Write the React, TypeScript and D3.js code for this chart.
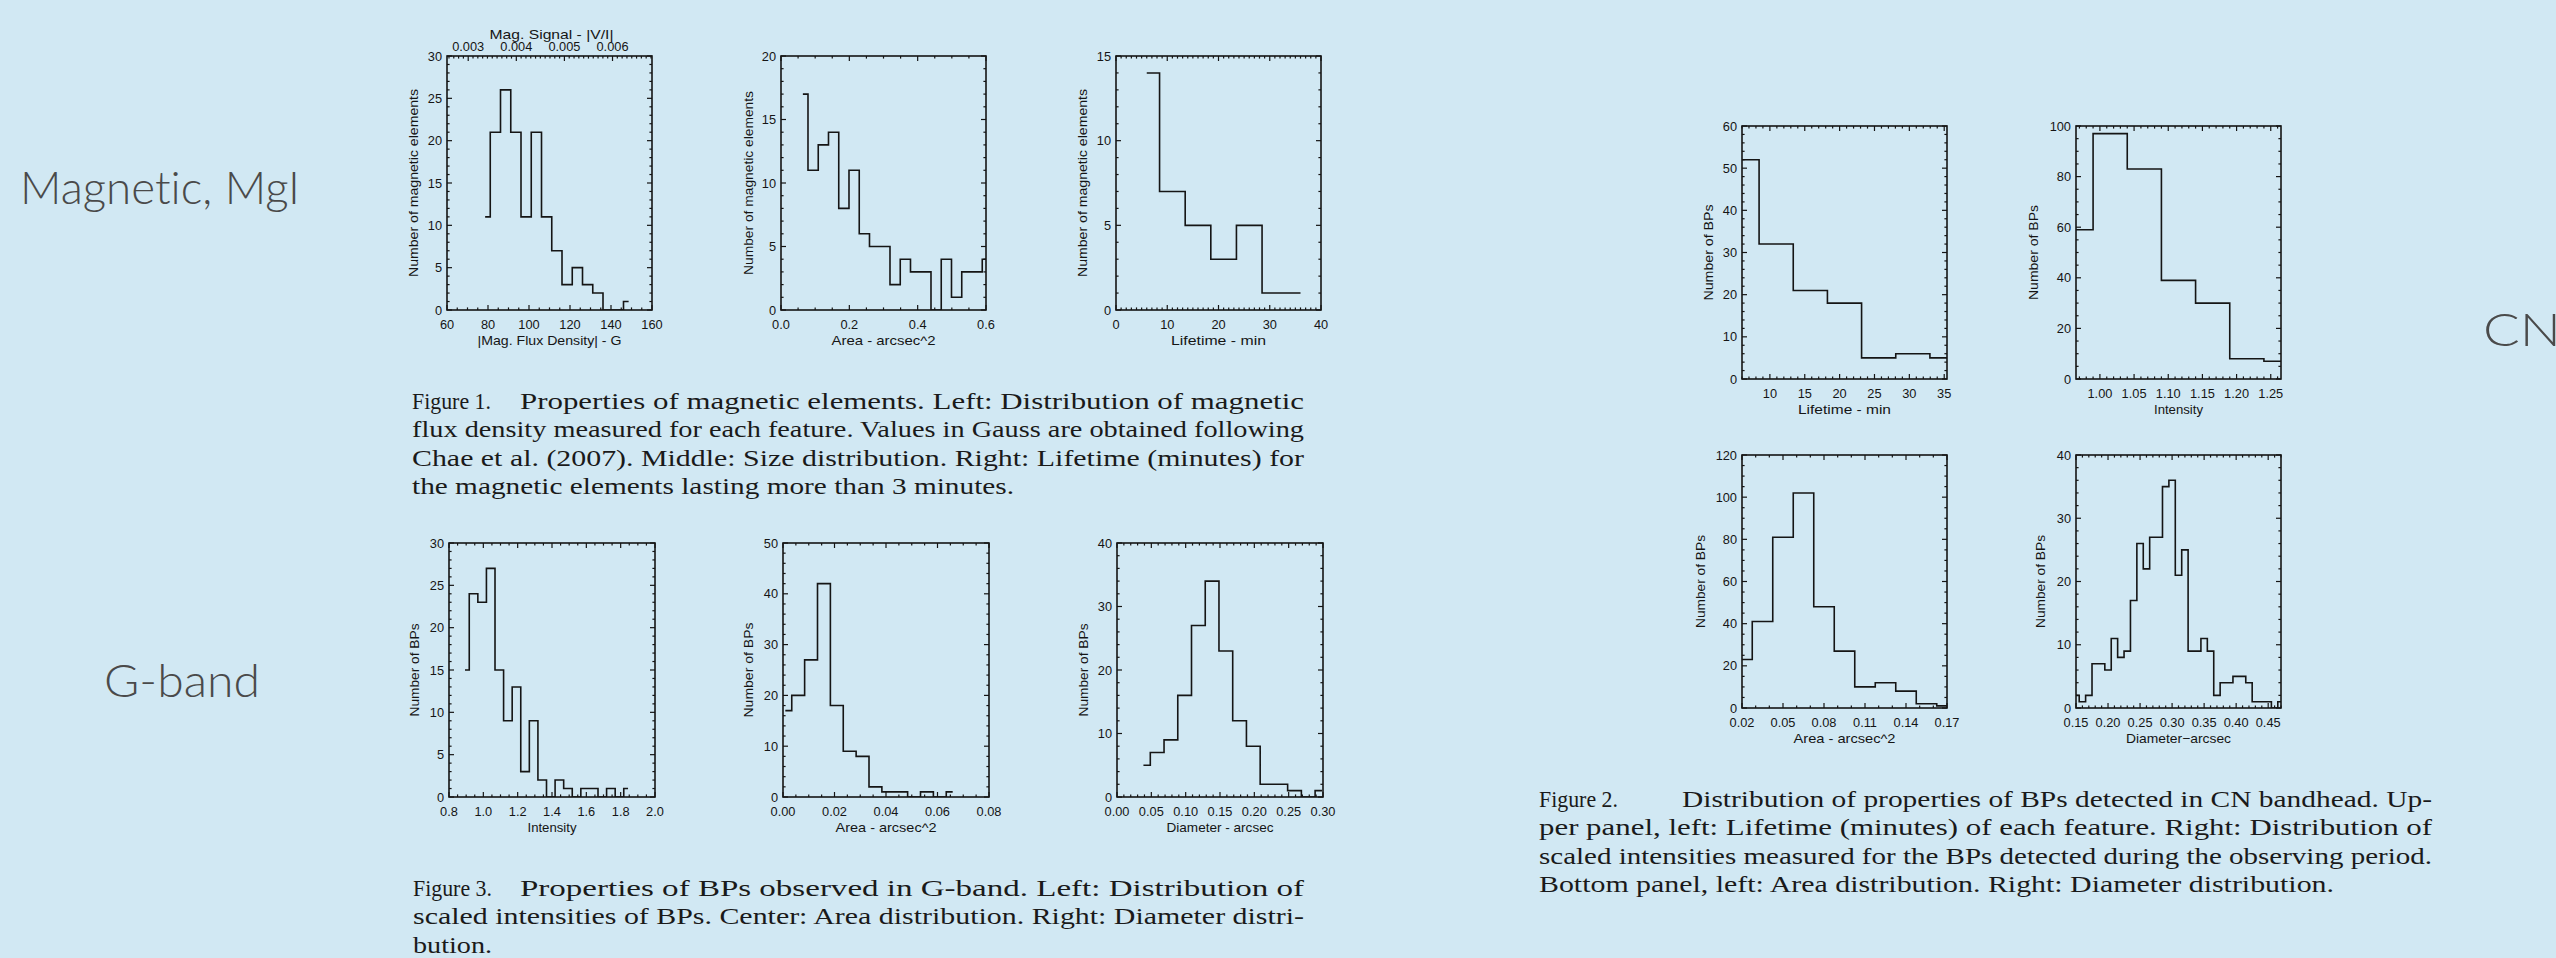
import React from 'react';
import * as d3 from 'd3';

const W = 2556;
const H = 958;

// ---------- Data ----------
// Figure 1 left: |Mag. Flux Density| (G)
const magFluxCenters = [78.6, 83.6, 88.6, 93.6, 98.6, 103.6, 108.6, 113.6, 118.6, 123.6, 128.6, 133.6, 138.6, 143.6, 148.6];
const magFluxCounts = [11, 21, 26, 21, 11, 21, 11, 7, 3, 5, 3, 2, 0, 0, 1];
const magFluxXTicks = [60, 80, 100, 120, 140, 160];
const magFluxYTicks = [0, 5, 10, 15, 20, 25, 30];
const magSignalTicks = [0.003, 0.004, 0.005, 0.006];

// Figure 1 middle: Area (arcsec^2)
const magAreaCenters = [0.064, 0.094, 0.124, 0.154, 0.184, 0.214, 0.244, 0.274, 0.304, 0.334, 0.364, 0.394, 0.424, 0.454, 0.484, 0.514, 0.544, 0.574, 0.604];
const magAreaCounts = [17, 11, 13, 14, 8, 11, 6, 5, 5, 2, 4, 3, 3, 0, 4, 1, 3, 3, 4];
const magAreaXTicks = [0.0, 0.2, 0.4, 0.6];
const magAreaYTicks = [0, 5, 10, 15, 20];

// Figure 1 right: Lifetime (min)
const magLifeCenters = [6, 11, 16, 21, 26, 31, 36];
const magLifeCounts = [14, 7, 5, 3, 5, 1, 1];
const magLifeXTicks = [0, 10, 20, 30, 40];
const magLifeYTicks = [0, 5, 10, 15];

// Figure 3 left: G-band intensity
const gIntCenters = [0.893, 0.943, 0.993, 1.043, 1.093, 1.143, 1.193, 1.243, 1.293, 1.343, 1.393, 1.443, 1.493, 1.543, 1.593, 1.643, 1.693, 1.743, 1.793, 1.843];
const gIntCounts = [15, 24, 23, 27, 15, 9, 13, 3, 9, 2, 0, 2, 1, 0, 1, 1, 0, 1, 0, 1];
const gIntXTicks = [0.8, 1.0, 1.2, 1.4, 1.6, 1.8, 2.0];
const gIntYTicks = [0, 5, 10, 15, 20, 25, 30];

// Figure 3 center: G-band area
const gAreaCenters = [0.0009, 0.0059, 0.0109, 0.0159, 0.0209, 0.0259, 0.0309, 0.0359, 0.0409, 0.0459, 0.0509, 0.0559, 0.0609, 0.0659];
const gAreaCounts = [17, 20, 27, 42, 18, 9, 8, 2, 1, 1, 0, 1, 0, 1];
const gAreaXTicks = [0.0, 0.02, 0.04, 0.06, 0.08];
const gAreaYTicks = [0, 10, 20, 30, 40, 50];

// Figure 3 right: G-band diameter
const gDiamCenters = [0.0385, 0.0585, 0.0785, 0.0985, 0.1185, 0.1385, 0.1585, 0.1785, 0.1985, 0.2185, 0.2385, 0.2585, 0.2785, 0.2985];
const gDiamCounts = [5, 7, 9, 16, 27, 34, 23, 12, 8, 2, 2, 1, 0, 1];
const gDiamXTicks = [0.0, 0.05, 0.1, 0.15, 0.2, 0.25, 0.3];
const gDiamYTicks = [0, 10, 20, 30, 40];

// Figure 2 upper left: CN lifetime
const cnLifeCenters = [6, 10.9, 15.8, 20.7, 25.6, 30.5, 35.4];
const cnLifeCounts = [52, 32, 21, 18, 5, 6, 5];
const cnLifeXTicks = [10, 15, 20, 25, 30, 35];
const cnLifeYTicks = [0, 10, 20, 30, 40, 50, 60];

// Figure 2 upper right: CN intensity
const cnIntCenters = [0.965, 1.015, 1.065, 1.115, 1.165, 1.215, 1.265];
const cnIntCounts = [59, 97, 83, 39, 30, 8, 7];
const cnIntXTicks = [1.0, 1.05, 1.1, 1.15, 1.2, 1.25];
const cnIntYTicks = [0, 20, 40, 60, 80, 100];

// Figure 2 lower left: CN area
const cnAreaCenters = [0.02, 0.035, 0.05, 0.065, 0.08, 0.095, 0.11, 0.125, 0.14, 0.155, 0.17];
const cnAreaCounts = [23, 41, 81, 102, 48, 27, 10, 12, 8, 2, 1];
const cnAreaXTicks = [0.02, 0.05, 0.08, 0.11, 0.14, 0.17];
const cnAreaYTicks = [0, 20, 40, 60, 80, 100, 120];

// Figure 2 lower right: CN diameter
const cnDiamCenters = [0.15, 0.16, 0.17, 0.18, 0.19, 0.2, 0.21, 0.22, 0.23, 0.24, 0.25, 0.26, 0.27, 0.28, 0.29, 0.3, 0.31, 0.32, 0.33, 0.34, 0.35, 0.36, 0.37, 0.38, 0.39, 0.4, 0.41, 0.42, 0.43, 0.44, 0.45, 0.46, 0.47];
const cnDiamCounts = [2, 1, 2, 7, 7, 6, 11, 8, 9, 17, 26, 22, 27, 27, 35, 36, 21, 25, 9, 9, 11, 9, 2, 4, 4, 5, 5, 4, 1, 1, 1, 0, 1];
const cnDiamXTicks = [0.15, 0.2, 0.25, 0.3, 0.35, 0.4, 0.45];
const cnDiamYTicks = [0, 10, 20, 30, 40];

// ---------- Captions ----------
const fig1Head = 'Figure 1.';
const fig1Lines = [
  'Properties of magnetic elements. Left: Distribution of magnetic',
  'flux density measured for each feature. Values in Gauss are obtained following',
  'Chae et al. (2007). Middle: Size distribution. Right: Lifetime (minutes) for',
  'the magnetic elements lasting more than 3 minutes.',
];
const fig3Head = 'Figure 3.';
const fig3Lines = [
  'Properties of BPs observed in G-band. Left: Distribution of',
  'scaled intensities of BPs. Center: Area distribution. Right: Diameter distri-',
  'bution.',
];
const fig2Head = 'Figure 2.';
const fig2Lines = [
  'Distribution of properties of BPs detected in CN bandhead. Up-',
  'per panel, left: Lifetime (minutes) of each feature. Right: Distribution of',
  'scaled intensities measured for the BPs detected during the observing period.',
  'Bottom panel, left: Area distribution. Right: Diameter distribution.',
];

type Panel = {
  key: string;
  box: [number, number, number, number];
  xDomain: [number, number];
  yDomain: [number, number];
  xTicks: number[];
  yTicks: number[];
  xFmt: string;
  xMinor: number;
  yMinor: number;
  xLabel: string;
  xLabelLen: number;
  yLabel: string;
  yLabelLen: number;
  yLabelOff: number;
  centers: number[];
  counts: number[];
  top?: boolean;
};

const PANELS: Panel[] = [
  { key: 'p1', box: [447, 56, 652, 310], xDomain: [60, 160], yDomain: [0, 30], xTicks: magFluxXTicks, yTicks: magFluxYTicks, xFmt: 'd', xMinor: 4, yMinor: 5, xLabel: '|Mag. Flux Density| - G', xLabelLen: 144, yLabel: 'Number of magnetic elements', yLabelLen: 188, yLabelOff: 34, centers: magFluxCenters, counts: magFluxCounts, top: true },
  { key: 'p2', box: [781, 56, 986, 310], xDomain: [0, 0.6], yDomain: [0, 20], xTicks: magAreaXTicks, yTicks: magAreaYTicks, xFmt: '.1f', xMinor: 4, yMinor: 5, xLabel: 'Area - arcsec^2', xLabelLen: 104, yLabel: 'Number of magnetic elements', yLabelLen: 184, yLabelOff: 33, centers: magAreaCenters, counts: magAreaCounts },
  { key: 'p3', box: [1116, 56, 1321, 310], xDomain: [0, 40], yDomain: [0, 15], xTicks: magLifeXTicks, yTicks: magLifeYTicks, xFmt: 'd', xMinor: 10, yMinor: 5, xLabel: 'Lifetime - min', xLabelLen: 95, yLabel: 'Number of magnetic elements', yLabelLen: 188, yLabelOff: 34, centers: magLifeCenters, counts: magLifeCounts },
  { key: 'p4', box: [449, 543, 655, 797], xDomain: [0.8, 2.0], yDomain: [0, 30], xTicks: gIntXTicks, yTicks: gIntYTicks, xFmt: '.1f', xMinor: 4, yMinor: 5, xLabel: 'Intensity', xLabelLen: 49, yLabel: 'Number of BPs', yLabelLen: 93, yLabelOff: 35, centers: gIntCenters, counts: gIntCounts },
  { key: 'p5', box: [783, 543, 989, 797], xDomain: [0, 0.08], yDomain: [0, 50], xTicks: gAreaXTicks, yTicks: gAreaYTicks, xFmt: '.2f', xMinor: 4, yMinor: 5, xLabel: 'Area - arcsec^2', xLabelLen: 101, yLabel: 'Number of BPs', yLabelLen: 95, yLabelOff: 35, centers: gAreaCenters, counts: gAreaCounts },
  { key: 'p6', box: [1117, 543, 1323, 797], xDomain: [0, 0.3], yDomain: [0, 40], xTicks: gDiamXTicks, yTicks: gDiamYTicks, xFmt: '.2f', xMinor: 5, yMinor: 5, xLabel: 'Diameter - arcsec', xLabelLen: 107, yLabel: 'Number of BPs', yLabelLen: 93, yLabelOff: 34, centers: gDiamCenters, counts: gDiamCounts },
  { key: 'p7', box: [1742, 126, 1947, 379], xDomain: [6, 35.4], yDomain: [0, 60], xTicks: cnLifeXTicks, yTicks: cnLifeYTicks, xFmt: 'd', xMinor: 5, yMinor: 5, xLabel: 'Lifetime - min', xLabelLen: 93, yLabel: 'Number of BPs', yLabelLen: 96, yLabelOff: 34, centers: cnLifeCenters, counts: cnLifeCounts },
  { key: 'p8', box: [2076, 126, 2281, 379], xDomain: [0.965, 1.265], yDomain: [0, 100], xTicks: cnIntXTicks, yTicks: cnIntYTicks, xFmt: '.2f', xMinor: 5, yMinor: 4, xLabel: 'Intensity', xLabelLen: 49, yLabel: 'Number of BPs', yLabelLen: 95, yLabelOff: 43, centers: cnIntCenters, counts: cnIntCounts },
  { key: 'p9', box: [1742, 455, 1947, 708], xDomain: [0.02, 0.17], yDomain: [0, 120], xTicks: cnAreaXTicks, yTicks: cnAreaYTicks, xFmt: '.2f', xMinor: 3, yMinor: 4, xLabel: 'Area - arcsec^2', xLabelLen: 102, yLabel: 'Number of BPs', yLabelLen: 93, yLabelOff: 42, centers: cnAreaCenters, counts: cnAreaCounts },
  { key: 'p10', box: [2076, 455, 2281, 708], xDomain: [0.15, 0.47], yDomain: [0, 40], xTicks: cnDiamXTicks, yTicks: cnDiamYTicks, xFmt: '.2f', xMinor: 5, yMinor: 5, xLabel: 'Diameter\u2212arcsec', xLabelLen: 105, yLabel: 'Number of BPs', yLabelLen: 93, yLabelOff: 36, centers: cnDiamCenters, counts: cnDiamCounts },
];

const INK = '#151515';
const AXIS_FONT = '"Liberation Sans", Arial, sans-serif';
const TICK_FS = 12.8;
const MAJ = 5;
const MIN = 2.6;
const SW = 1.6;

function minorValues(ticks: number[], sub: number, domain: [number, number]) {
  const step = (ticks[1] - ticks[0]) / sub;
  const lo = Math.min(domain[0], domain[1]);
  const hi = Math.max(domain[0], domain[1]);
  const out: number[] = [];
  const k0 = Math.ceil(lo / step - 1e-6);
  const k1 = Math.floor(hi / step + 1e-6);
  for (let k = k0; k <= k1; k++) {
    const v = k * step;
    const isMajor = ticks.some((t) => Math.abs(t - v) < step * 1e-3);
    if (!isMajor) out.push(v);
  }
  return out;
}

function stepPath(centers: number[], counts: number[], x: (v: number) => number, y: (v: number) => number) {
  const n = centers.length;
  let d = '';
  for (let i = 0; i < n; i++) {
    const l = i === 0 ? centers[0] : (centers[i - 1] + centers[i]) / 2;
    const r = i === n - 1 ? centers[n - 1] : (centers[i] + centers[i + 1]) / 2;
    if (i === 0) d += `M${x(l)},${y(counts[i])}`;
    else d += `V${y(counts[i])}`;
    d += `H${x(r)}`;
  }
  return d;
}

function HistPanel({ p }: { p: Panel }) {
  const [x0, y0, x1, y1] = p.box;
  const x = d3.scaleLinear().domain(p.xDomain).range([x0, x1]);
  const y = d3.scaleLinear().domain(p.yDomain).range([y1, y0]);
  const fmt = d3.format(p.xFmt);
  const xMin = minorValues(p.xTicks, p.xMinor, p.xDomain);
  const yMin = minorValues(p.yTicks, p.yMinor, p.yDomain);
  const clipId = `clip-${p.key}`;
  const ticks: React.ReactNode[] = [];
  p.xTicks.forEach((t, i) => {
    const xx = x(t);
    ticks.push(<line key={`xb${i}`} x1={xx} x2={xx} y1={y1} y2={y1 - MAJ} />);
    if (!p.top) ticks.push(<line key={`xt${i}`} x1={xx} x2={xx} y1={y0} y2={y0 + MAJ} />);
  });
  xMin.forEach((t, i) => {
    const xx = x(t);
    ticks.push(<line key={`xbm${i}`} x1={xx} x2={xx} y1={y1} y2={y1 - MIN} />);
    if (!p.top) ticks.push(<line key={`xtm${i}`} x1={xx} x2={xx} y1={y0} y2={y0 + MIN} />);
  });
  p.yTicks.forEach((t, i) => {
    const yy = y(t);
    ticks.push(<line key={`yl${i}`} x1={x0} x2={x0 + MAJ} y1={yy} y2={yy} />);
    ticks.push(<line key={`yr${i}`} x1={x1} x2={x1 - MAJ} y1={yy} y2={yy} />);
  });
  yMin.forEach((t, i) => {
    const yy = y(t);
    ticks.push(<line key={`ylm${i}`} x1={x0} x2={x0 + MIN} y1={yy} y2={yy} />);
    ticks.push(<line key={`yrm${i}`} x1={x1} x2={x1 - MIN} y1={yy} y2={yy} />);
  });

  let topAxis: React.ReactNode = null;
  if (p.top) {
    // secondary axis: Mag. Signal |V/I|
    const s = d3.scaleLinear().domain([0.002559, 0.006821]).range([x0, x1]);
    const sMin = minorValues(magSignalTicks, 10, [0.002559, 0.006821]);
    const sf = d3.format('.3f');
    topAxis = (
      <g>
        <g stroke={INK} strokeWidth={1.2}>
          {magSignalTicks.map((t, i) => (
            <line key={`s${i}`} x1={s(t)} x2={s(t)} y1={y0} y2={y0 + MAJ} />
          ))}
          {sMin.map((t, i) => (
            <line key={`sm${i}`} x1={s(t)} x2={s(t)} y1={y0} y2={y0 + MIN} />
          ))}
        </g>
        <g fontFamily={AXIS_FONT} fontSize={TICK_FS} fill={INK} textAnchor="middle">
          {magSignalTicks.map((t, i) => (
            <text key={`sl${i}`} x={s(t)} y={y0 - 5.5}>{sf(t)}</text>
          ))}
          <text x={(x0 + x1) / 2 + 2} y={y0 - 17.5} textLength={124} lengthAdjust="spacingAndGlyphs">Mag. Signal - |V/I|</text>
        </g>
      </g>
    );
  }

  return (
    <g>
      <defs>
        <clipPath id={clipId}>
          <rect x={x0} y={y0} width={x1 - x0} height={y1 - y0} />
        </clipPath>
      </defs>
      <path d={stepPath(p.centers, p.counts, x, y)} fill="none" stroke={INK} strokeWidth={SW} clipPath={`url(#${clipId})`} />
      <g stroke={INK} strokeWidth={1.2}>{ticks}</g>
      <rect x={x0} y={y0} width={x1 - x0} height={y1 - y0} fill="none" stroke={INK} strokeWidth={SW} />
      {topAxis}
      <g fontFamily={AXIS_FONT} fontSize={TICK_FS} fill={INK}>
        {p.xTicks.map((t, i) => (
          <text key={`xl${i}`} x={x(t)} y={y1 + 19} textAnchor="middle">{fmt(t)}</text>
        ))}
        {p.yTicks.map((t, i) => (
          <text key={`yl${i}`} x={x0 - 5} y={y(t)} dy="0.36em" textAnchor="end">{t}</text>
        ))}
        <text x={(x0 + x1) / 2} y={y1 + 34.5} textAnchor="middle" textLength={p.xLabelLen} lengthAdjust="spacingAndGlyphs">{p.xLabel}</text>
        <text
          transform={`translate(${x0 - p.yLabelOff + 4.5},${(y0 + y1) / 2}) rotate(-90)`}
          textAnchor="middle"
          textLength={p.yLabelLen}
          lengthAdjust="spacingAndGlyphs"
        >
          {p.yLabel}
        </text>
      </g>
    </g>
  );
}

const CAP_FONT = '"Liberation Serif", "Times New Roman", serif';
const CAP_FS = 23.5;
const HEAD_LEN = 79;

function Caption({ head, lines, x, restX, right, lastRight, baseline, gap }: { head: string; lines: string[]; x: number; restX: number; right: number; lastRight: number; baseline: number; gap: number }) {
  return (
    <g fontFamily={CAP_FONT} fontSize={CAP_FS} fill="#1a1a1a">
      <text x={x} y={baseline} textLength={HEAD_LEN} lengthAdjust="spacingAndGlyphs">{head}</text>
      {lines.map((ln, i) => {
        const sx = i === 0 ? restX : x;
        const ex = i === lines.length - 1 ? lastRight : right;
        return (
          <text key={i} x={sx} y={baseline + i * gap} textLength={ex - sx} lengthAdjust="spacingAndGlyphs">
            {ln}
          </text>
        );
      })}
    </g>
  );
}

export default function App() {
  return (
    <svg
      width={W}
      height={H}
      viewBox={`0 0 ${W} ${H}`}
      style={{ position: 'absolute', left: 0, top: 0, display: 'block' }}
    >
      <rect x={0} y={0} width={W} height={H} fill="#d1e8f3" />
      <g fontFamily="Lato, 'Open Sans', sans-serif" fontWeight={300} fontSize={45} fill="#4a4a4a" style={{ fontVariantLigatures: 'none' }}>
        <text x={20} y={204} textLength={280} lengthAdjust="spacingAndGlyphs">Magnetic, MgI</text>
        <text x={104} y={697} textLength={156} lengthAdjust="spacingAndGlyphs">G-band</text>
        <text x={2483} y={346} textLength={78} lengthAdjust="spacingAndGlyphs">CN</text>
      </g>
      {PANELS.map((p) => (
        <HistPanel key={p.key} p={p} />
      ))}
      <Caption head={fig1Head} lines={fig1Lines} x={412} restX={520} right={1304} lastRight={1014} baseline={409} gap={28.4} />
      <Caption head={fig3Head} lines={fig3Lines} x={413} restX={520} right={1304} lastRight={492} baseline={896} gap={28.4} />
      <Caption head={fig2Head} lines={fig2Lines} x={1539} restX={1682} right={2432} lastRight={2334} baseline={807} gap={28.4} />
    </svg>
  );
}
